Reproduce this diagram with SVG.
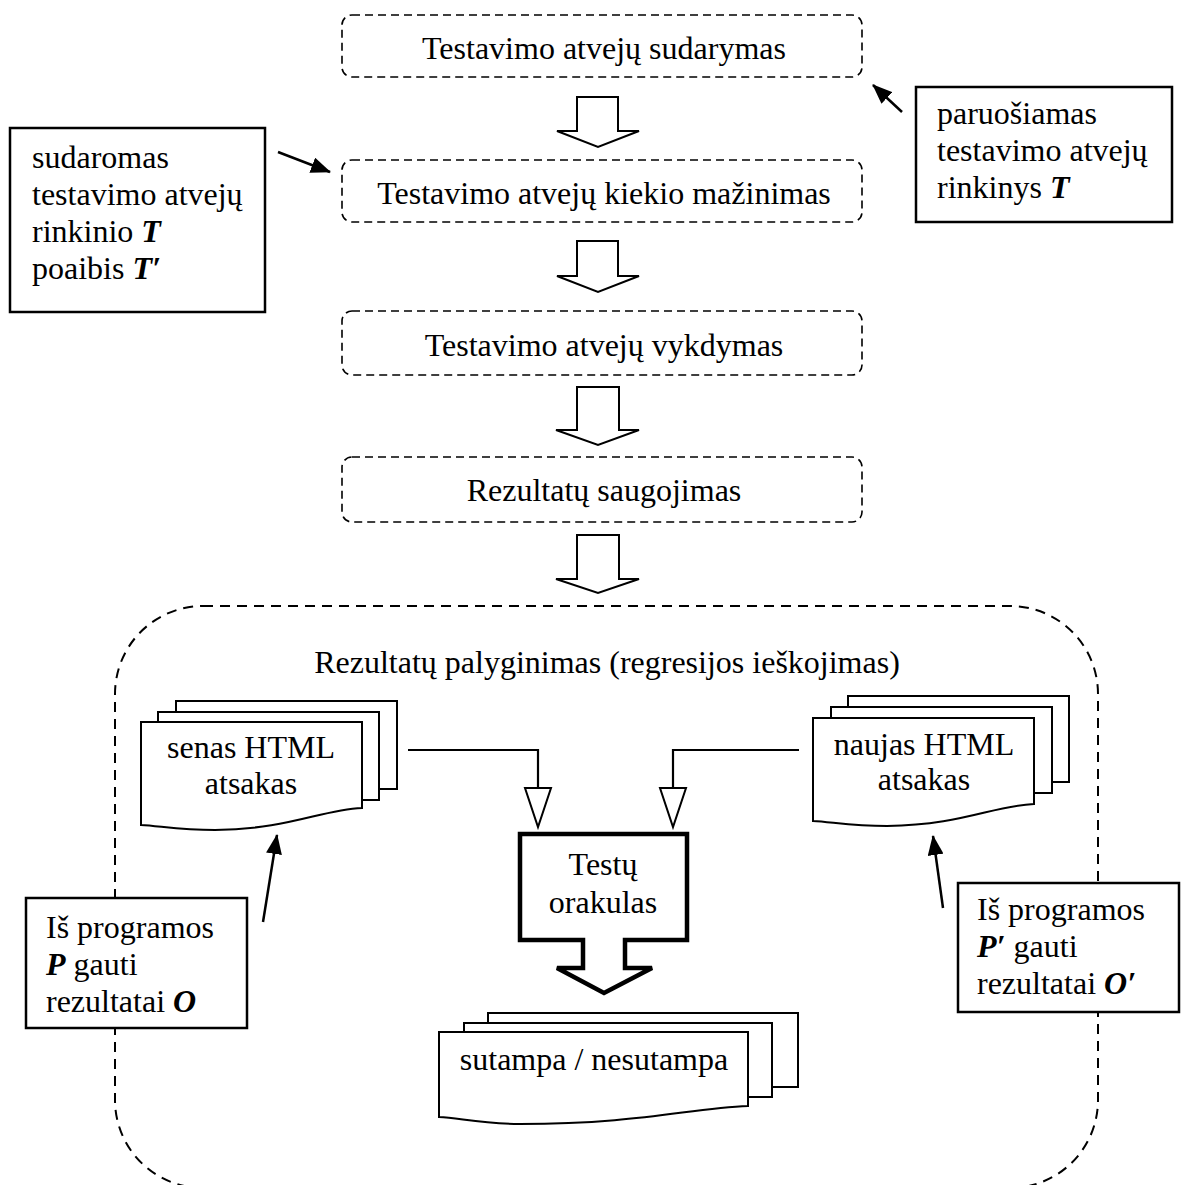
<svg xmlns="http://www.w3.org/2000/svg" width="1182" height="1185" viewBox="0 0 1182 1185">
  <style>
    text { font-family: "Liberation Serif", "Times New Roman", serif; font-size: 32px; fill: #000; }
    .mid { text-anchor: middle; }
    .bi { font-weight: bold; font-style: italic; }
    .step { fill: #fff; stroke: #000; stroke-width: 1.6; stroke-dasharray: 8 5; }
    .note { fill: #fff; stroke: #000; stroke-width: 2.5; }
    .block { fill: #fff; stroke: #000; stroke-width: 2; stroke-linejoin: miter; }
    .doc { fill: #fff; stroke: #000; stroke-width: 2; stroke-linejoin: miter; }
    .frame { fill: none; stroke: #000; stroke-width: 2; stroke-dasharray: 10 7; }
    .oracle { fill: #fff; stroke: #000; stroke-width: 4.5; stroke-linejoin: miter; }
    .wire { fill: none; stroke: #000; stroke-width: 2.2; }
    .pointer { fill: none; stroke: #000; stroke-width: 2.5; marker-end: url(#head); }
    .open { fill: #fff; stroke: #000; stroke-width: 2; }
  </style>
  <defs>
    <marker id="head" markerUnits="userSpaceOnUse" markerWidth="22" markerHeight="16" refX="19" refY="8" orient="auto">
      <path d="M0,0 L20,8 L0,16 Z" fill="#000"/>
    </marker>
    <!-- wavy-bottom document sheet, origin at top-left -->
  </defs>

  <!-- comparison area -->
  <rect id="comparison" class="frame" x="115" y="606" width="983" height="582" rx="88" ry="88"/>
  <text class="mid" x="607" y="673">Rezultatų palyginimas (regresijos ieškojimas)</text>

  <!-- process steps -->
  <g id="step-create">
    <rect class="step" x="342" y="15" width="520" height="62" rx="10"/>
    <text class="mid" x="604" y="59">Testavimo atvejų sudarymas</text>
  </g>
  <g id="step-reduce">
    <rect class="step" x="342" y="160" width="520" height="62" rx="10"/>
    <text class="mid" x="604" y="204">Testavimo atvejų kiekio mažinimas</text>
  </g>
  <g id="step-run">
    <rect class="step" x="342" y="311" width="520" height="64" rx="10"/>
    <text class="mid" x="604" y="356">Testavimo atvejų vykdymas</text>
  </g>
  <g id="step-store">
    <rect class="step" x="342" y="457" width="520" height="65" rx="10"/>
    <text class="mid" x="604" y="501">Rezultatų saugojimas</text>
  </g>

  <!-- side notes -->
  <g id="note-subset">
    <rect class="note" x="10" y="128" width="255" height="184"/>
    <text x="32" y="168">sudaromas</text>
    <text x="32" y="205">testavimo atvejų</text>
    <text x="32" y="242">rinkinio <tspan class="bi">T</tspan></text>
    <text x="32" y="279">poaibis <tspan class="bi">T′</tspan></text>
  </g>
  <g id="note-set">
    <rect class="note" x="916" y="87" width="256" height="135"/>
    <text x="937" y="124">paruošiamas</text>
    <text x="937" y="161">testavimo atvejų</text>
    <text x="937" y="198">rinkinys <tspan class="bi">T</tspan></text>
  </g>
  <g id="note-old">
    <rect class="note" x="26" y="898" width="221" height="130"/>
    <text x="46" y="938">Iš programos</text>
    <text x="46" y="975"><tspan class="bi">P</tspan> gauti</text>
    <text x="46" y="1012">rezultatai <tspan class="bi">O</tspan></text>
  </g>
  <g id="note-new">
    <rect class="note" x="958" y="883" width="221" height="129"/>
    <text x="977" y="920">Iš programos</text>
    <text x="977" y="957"><tspan class="bi">P′</tspan> gauti</text>
    <text x="977" y="994">rezultatai <tspan class="bi">O′</tspan></text>
  </g>

  <!-- old response documents -->
  <g id="doc-old">
    <rect class="doc" x="176" y="701" width="221" height="88"/>
    <rect class="doc" x="158" y="712" width="221" height="88"/>
    <path class="doc" d="M141,722 H362 V808 C320,810 290,829 215,830 C180,830 160,826 141,825 Z"/>
    <text class="mid" x="251" y="758">senas HTML</text>
    <text class="mid" x="251" y="794">atsakas</text>
  </g>

  <!-- new response documents -->
  <g id="doc-new">
    <rect class="doc" x="848" y="696" width="221" height="86"/>
    <rect class="doc" x="831" y="707" width="221" height="86"/>
    <path class="doc" d="M813,718 H1034 V804 C992,806 962,825 887,826 C852,826 832,822 813,821 Z"/>
    <text class="mid" x="924" y="755">naujas HTML</text>
    <text class="mid" x="924" y="790">atsakas</text>
  </g>

  <!-- test oracle -->
  <g id="oracle">
    <path class="oracle" d="M520,834 H687 V940 H625 V968 H652 L604,993 L557,968 H583 V940 H520 Z"/>
    <text class="mid" x="603" y="875">Testų</text>
    <text class="mid" x="603" y="913">orakulas</text>
  </g>

  <!-- comparison outcome documents -->
  <g id="doc-result">
    <rect class="doc" x="488" y="1013" width="310" height="74"/>
    <rect class="doc" x="464" y="1023" width="308" height="74"/>
    <path class="doc" d="M439,1032 H748 V1106 C690,1108 640,1124 520,1124 C480,1124 460,1118 439,1117 Z"/>
    <text class="mid" x="594" y="1070">sutampa / nesutampa</text>
  </g>

  <!-- connectors -->
  <g id="connectors">
    <path class="block" d="M577,97 H618 V131 H639 L598,147 L557,131 H577 Z"/>
    <path class="block" d="M577,241 H618 V276 H639 L598,292 L557,276 H577 Z"/>
    <path class="block" d="M577,387 H619 V430 H639 L598,445 L556,430 H577 Z"/>
    <path class="block" d="M577,535 H619 V579 H639 L598,593 L556,579 H577 Z"/>

    <path class="pointer" d="M278,152 L330,172"/>
    <path class="pointer" d="M902,112 L873,85"/>
    <path class="pointer" d="M263,922 L277,835"/>
    <path class="pointer" d="M943,908 L933,836"/>

    <path class="wire" d="M408,750 H538 V788"/>
    <polygon class="open" points="525,788 551,788 538,827"/>
    <path class="wire" d="M799,750 H673 V788"/>
    <polygon class="open" points="660,788 686,788 673,827"/>
  </g>
</svg>
